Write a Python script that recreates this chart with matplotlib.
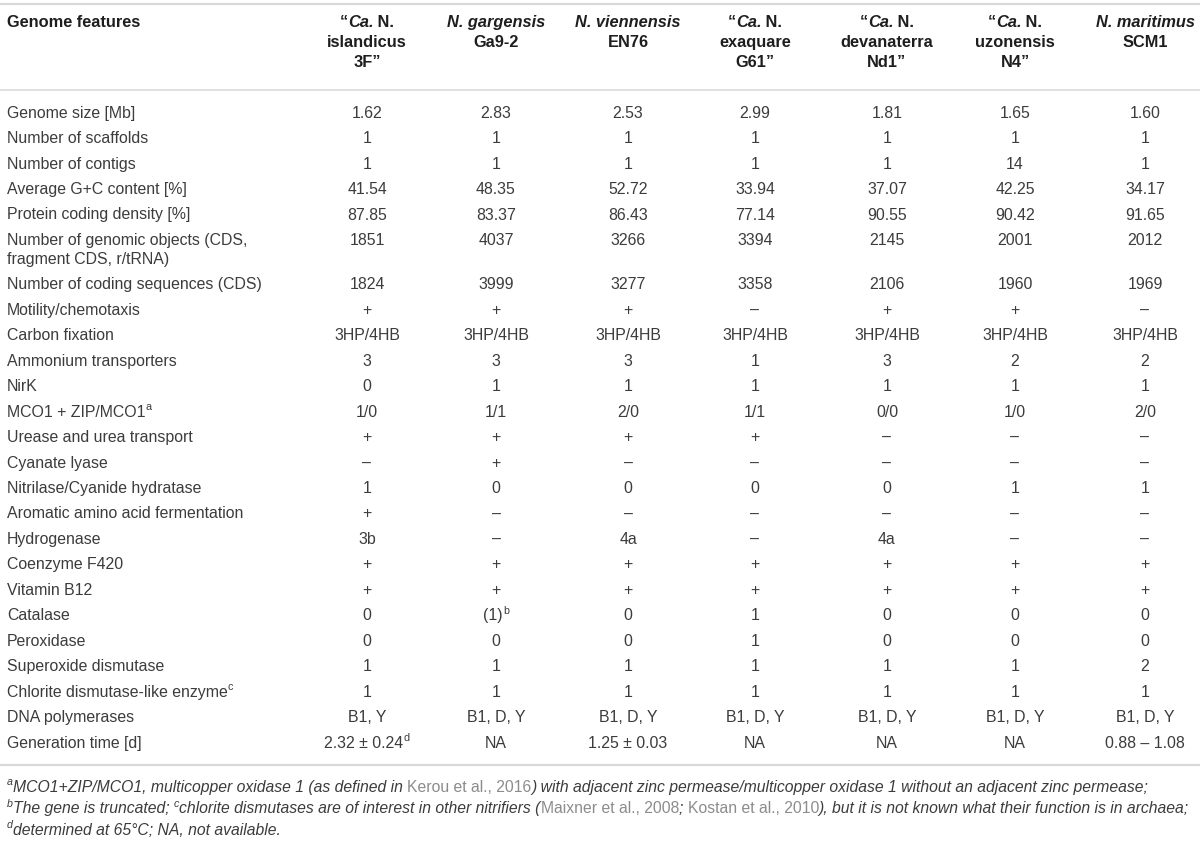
import matplotlib.pyplot as plt

plt.rcParams['font.family'] = ['Liberation Sans', 'DejaVu Sans']

# table content
features = ["Genome size [Mb]", "Number of scaffolds", "Number of contigs",
            "Average G+C content [%]", "Protein coding density [%]",
            "Number of genomic objects (CDS,\nfragment CDS, r/tRNA)",
            "Number of coding sequences (CDS)", "Motility/chemotaxis",
            "Carbon fixation", "Ammonium transporters", "NirK",
            "MCO1 + ZIP/MCO1^a", "Urease and urea transport", "Cyanate lyase",
            "Nitrilase/Cyanide hydratase", "Aromatic amino acid fermentation",
            "Hydrogenase", "Coenzyme F420", "Vitamin B12", "Catalase",
            "Peroxidase", "Superoxide dismutase",
            "Chlorite dismutase-like enzyme^c", "DNA polymerases",
            "Generation time [d]"]

header_top = ["“Ca. N.", "N. gargensis", "N. viennensis", "“Ca. N.",
              "“Ca. N.", "“Ca. N.", "N. maritimus"]
header_rest = [["islandicus", "3F”"], ["Ga9-2"], ["EN76"],
               ["exaquare", "G61”"], ["devanaterra", "Nd1”"],
               ["uzonensis", "N4”"], ["SCM1"]]

islandicus = ["1.62", "1", "1", "41.54", "87.85", "1851", "1824", "+",
              "3HP/4HB", "3", "0", "1/0", "+", "–", "1", "+", "3b", "+", "+",
              "0", "0", "1", "1", "B1, Y", "2.32 ± 0.24^d"]
gargensis = ["2.83", "1", "1", "48.35", "83.37", "4037", "3999", "+",
             "3HP/4HB", "3", "1", "1/1", "+", "+", "0", "–", "–", "+", "+",
             "(1)^b", "0", "1", "1", "B1, D, Y", "NA"]
viennensis = ["2.53", "1", "1", "52.72", "86.43", "3266", "3277", "+",
              "3HP/4HB", "3", "1", "2/0", "+", "–", "0", "–", "4a", "+", "+",
              "0", "0", "1", "1", "B1, D, Y", "1.25 ± 0.03"]
exaquare = ["2.99", "1", "1", "33.94", "77.14", "3394", "3358", "–",
            "3HP/4HB", "1", "1", "1/1", "+", "–", "0", "–", "–", "+", "+",
            "1", "1", "1", "1", "B1, D, Y", "NA"]
devanaterra = ["1.81", "1", "1", "37.07", "90.55", "2145", "2106", "+",
               "3HP/4HB", "3", "1", "0/0", "–", "–", "0", "–", "4a", "+", "+",
               "0", "0", "1", "1", "B1, D, Y", "NA"]
uzonensis = ["1.65", "1", "14", "42.25", "90.42", "2001", "1960", "+",
             "3HP/4HB", "2", "1", "1/0", "–", "–", "1", "–", "–", "+", "+",
             "0", "0", "1", "1", "B1, D, Y", "NA"]
maritimus = ["1.60", "1", "1", "34.17", "91.65", "2012", "1969", "–",
             "3HP/4HB", "2", "1", "2/0", "–", "–", "1", "–", "–", "+", "+",
             "0", "0", "2", "1", "B1, D, Y", "0.88 – 1.08"]
columns = [islandicus, gargensis, viennensis, exaquare, devanaterra,
           uzonensis, maritimus]

footnotes = [
    [("a", "sup"), ("MCO1+ZIP/MCO1, multicopper oxidase 1 (as defined in ", "it"),
     ("Kerou et al., 2016", "link"),
     (") with adjacent zinc permease/multicopper oxidase 1 without an adjacent zinc permease;", "it")],
    [("b", "sup"), ("The gene is truncated; ", "it"), ("c", "sup"),
     ("chlorite dismutases are of interest in other nitrifiers (", "it"),
     ("Maixner et al., 2008", "link"), ("; ", "it"),
     ("Kostan et al., 2010", "link"),
     ("), but it is not known what their function is in archaea;", "it")],
    [("d", "sup"), ("determined at 65°C; NA, not available.", "it")],
]

# layout (pixels)
W, H = 1200, 866
col_x = [367, 496, 628, 755, 887, 1015, 1145]
left_x = 7
fs = 11.4            # body font size in pt
hfs = 11.8           # header font size
row_h = 25.45
line_h = 19
first_row = 112
txt_col = '#3c3c3c'
head_col = '#1e1e1e'
rule_col = '#d8d8d8'

fig = plt.figure(figsize=(W / 100, H / 100), dpi=100)
ax = fig.add_axes([0, 0, 1, 1])
ax.set_xlim(0, W)
ax.set_ylim(H, 0)
ax.axis('off')
renderer = fig.canvas.get_renderer()


def text_width(s, **kw):
    t = ax.text(0, 0, "x" + s + "x", **kw)
    w = t.get_window_extent(renderer).width
    t.remove()
    t = ax.text(0, 0, "xx", **kw)
    w -= t.get_window_extent(renderer).width
    t.remove()
    return w


def parse_sup(s):
    out, buf, i = [], "", 0
    while i < len(s):
        if s[i] == '^':
            if buf:
                out.append((buf, False))
            out.append((s[i + 1], True))
            buf = ""
            i += 2
        else:
            buf += s[i]
            i += 1
    if buf:
        out.append((buf, False))
    return out


def run_widths(runs, size):
    return [text_width(txt, fontsize=size * (0.68 if sup else 1), **kw)
            for txt, kw, sup in runs]


def draw_runs(x, yc, runs, size, ha='left'):
    # runs: (text, kwargs, is_sup); yc = visual centre of the line
    p = size * 100 / 72
    base = yc + 0.36 * p
    widths = run_widths(runs, size)
    if ha == 'center':
        x -= sum(widths) / 2
    for (txt, kw, sup), w in zip(runs, widths):
        if sup:
            ax.text(x, base - 0.42 * p, txt, fontsize=size * 0.68,
                    va='baseline', ha='left', **kw)
        else:
            ax.text(x, base, txt, fontsize=size, va='baseline', ha='left', **kw)
        x += w


def cell(x, yc, s, ha):
    runs = [(t, dict(color=txt_col), sup) for t, sup in parse_sup(s)]
    draw_runs(x, yc, runs, fs, ha)


# rules
ax.plot([0, W], [4, 4], color=rule_col, lw=1.6, solid_capstyle='butt')
ax.plot([0, W], [90, 90], color=rule_col, lw=1.1, solid_capstyle='butt')
ax.plot([0, W], [765, 765], color=rule_col, lw=1.6, solid_capstyle='butt')

# header
hb = dict(color=head_col, fontweight='bold')
hbi = dict(color=head_col, fontweight='bold', fontstyle='italic')
head_y = [21, 41, 61]
draw_runs(left_x, head_y[0], [("Genome features", hb, False)], hfs)
for x, top, rest in zip(col_x, header_top, header_rest):
    if top.startswith("“Ca."):
        runs = [("“", hb, False), ("Ca.", hbi, False), (top[4:], hb, False)]
    else:
        runs = [(top, hbi, False)]
    draw_runs(x, head_y[0], runs, hfs, 'center')
    for k, line in enumerate(rest):
        draw_runs(x, head_y[k + 1], [(line, hb, False)], hfs, 'center')

# body rows
y = first_row
for i, feat in enumerate(features):
    lines = feat.split("\n")
    for k, line in enumerate(lines):
        cell(left_x, y + k * line_h, line, 'left')
    for x, col in zip(col_x, columns):
        cell(x, y, col[i], 'center')
    y += row_h + (len(lines) - 1) * line_h

# footnotes: size chosen so the longest line fits the table width
styles = {"it": dict(color=txt_col, fontstyle='italic'),
          "sup": dict(color=txt_col, fontstyle='italic'),
          "link": dict(color='#8c8c8c')}


def fn_runs(line):
    return [(t, styles[k], k == "sup") for t, k in line]


widest = max(sum(run_widths(fn_runs(line), 10)) for line in footnotes)
fn_fs = 10 * (1190 - left_x) / widest
for j, line in enumerate(footnotes):
    draw_runs(left_x, 786 + j * 21.5, fn_runs(line), fn_fs)

fig.savefig("out.png", dpi=100)
